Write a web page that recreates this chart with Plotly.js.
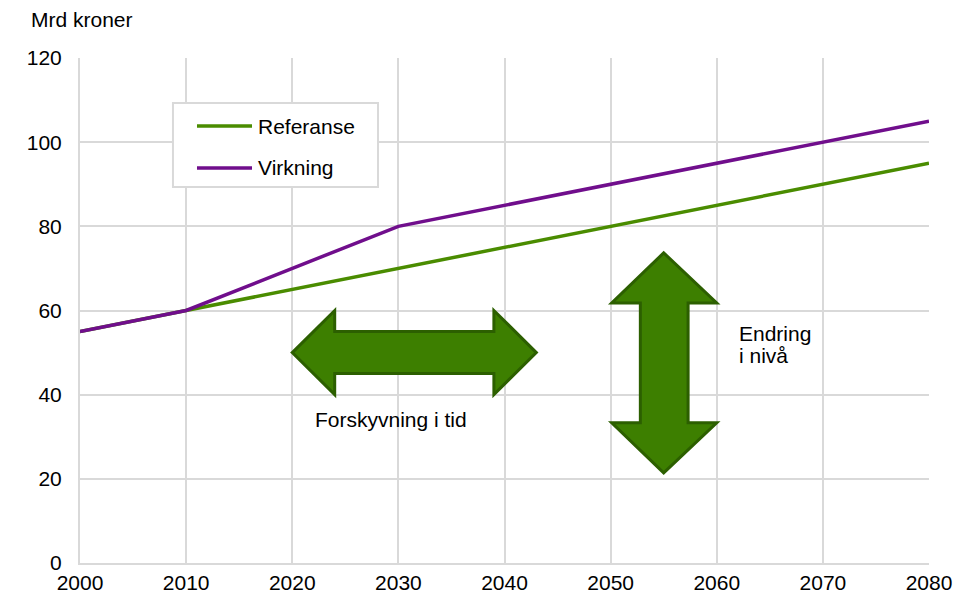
<!DOCTYPE html>
<html><head><meta charset="utf-8">
<script src="https://cdn.plot.ly/plotly-3.0.1.min.js"></script>
<style>body{margin:0;background:#fff}#c{width:953px;height:594px}</style>
</head><body><div id="c"></div>
<script>
const years = [2000, 2010, 2030, 2080];
const referanse = [55, 60, 70, 95];
const virkning = [55, 60, 80, 105];
const seriesNames = ['Referanse', 'Virkning'];
const seriesColors = ['#4a8c00', '#700e8c'];
const xTicks = [2000, 2010, 2020, 2030, 2040, 2050, 2060, 2070, 2080];
const yTicks = [0, 20, 40, 60, 80, 100, 120];
// arrow outlines (data units)
const hArrowX = [2020, 2024, 2024, 2039, 2039, 2043, 2039, 2039, 2024, 2024];
const hArrowY = [50, 60, 55, 55, 60, 50, 40, 45, 45, 40];
const vArrowX = [2055, 2060, 2057.3, 2057.3, 2060, 2055, 2050.1, 2052.8, 2052.8, 2050.1];
const vArrowY = [73.7, 61.8, 61.8, 33.3, 33.3, 21.4, 33.3, 33.3, 61.8, 61.8];

function pathOf(xs, ys){
  return 'M' + xs.map((x,i)=>x+','+ys[i]).join(' L') + ' Z';
}

const font = {family:'Liberation Sans, Arial, sans-serif', size:21, color:'#000'};
const traces = [
  {x: years, y: referanse, name: seriesNames[0], mode:'lines', line:{color:seriesColors[0], width:3.5}},
  {x: years, y: virkning, name: seriesNames[1], mode:'lines', line:{color:seriesColors[1], width:3.5}}
];
const arrowStyle = {type:'path', xref:'x', yref:'y', fillcolor:'#3d7f00', line:{color:'#2c5f00', width:3}, layer:'above'};

// manual legend (paper coords)
const legBox = {x0:0.1095, x1:0.351, y0:0.7446, y1:0.9109};
const legRowsY = [0.8653, 0.7822];
const legLineX = [0.1378, 0.2026];
const legTextX = 0.2073;

const shapes = [
  Object.assign({path:pathOf(hArrowX,hArrowY)}, arrowStyle),
  Object.assign({path:pathOf(vArrowX,vArrowY)}, arrowStyle),
  {type:'rect', xref:'paper', yref:'paper', x0:legBox.x0, x1:legBox.x1, y0:legBox.y0, y1:legBox.y1,
   fillcolor:'#fff', line:{color:'#d9d9d9', width:2}, layer:'above'}
];
const annotations = [
  {text:'Mrd kroner', xref:'paper', yref:'paper', x:-0.0601, y:1.077, xanchor:'left', yanchor:'middle', showarrow:false, font:font},
  {text:'Forskyvning i tid', xref:'x', yref:'y', x:2021.95, y:34.0, xanchor:'left', yanchor:'middle', showarrow:false, font:font},
  {text:'Endring', xref:'x', yref:'y', x:2061.9, y:54.6, xanchor:'left', yanchor:'middle', showarrow:false, font:font},
  {text:'i nivå', xref:'x', yref:'y', x:2061.9, y:49.2, xanchor:'left', yanchor:'middle', showarrow:false, font:font}
];
seriesNames.forEach((n, i) => {
  shapes.push({type:'line', xref:'paper', yref:'paper', x0:legLineX[0], x1:legLineX[1], y0:legRowsY[i], y1:legRowsY[i],
               line:{color:seriesColors[i], width:3.5}, layer:'above'});
  annotations.push({text:n, xref:'paper', yref:'paper', x:legTextX, y:legRowsY[i], xanchor:'left', yanchor:'middle',
                    showarrow:false, font:font});
});

const layout = {
  width:953, height:594,
  margin:{l:80, r:24, t:58, b:31},
  paper_bgcolor:'#fff', plot_bgcolor:'#fff',
  font: font,
  showlegend:false,
  xaxis:{range:[2000,2080], tickvals:xTicks, ticktext:xTicks.map(String), showgrid:true, gridcolor:'#d9d9d9', gridwidth:2,
         showline:true, linecolor:'#d9d9d9', linewidth:2, ticks:'', zeroline:false, tickfont:font},
  yaxis:{range:[0,120], tickvals:yTicks, showgrid:true, gridcolor:'#d9d9d9', gridwidth:2,
         showline:true, linecolor:'#d9d9d9', linewidth:2, ticks:'', zeroline:false, tickfont:font, ticklabelstandoff:12},
  shapes: shapes,
  annotations: annotations
};
Plotly.newPlot('c', traces, layout, {staticPlot:true, displayModeBar:false});
</script></body></html>
